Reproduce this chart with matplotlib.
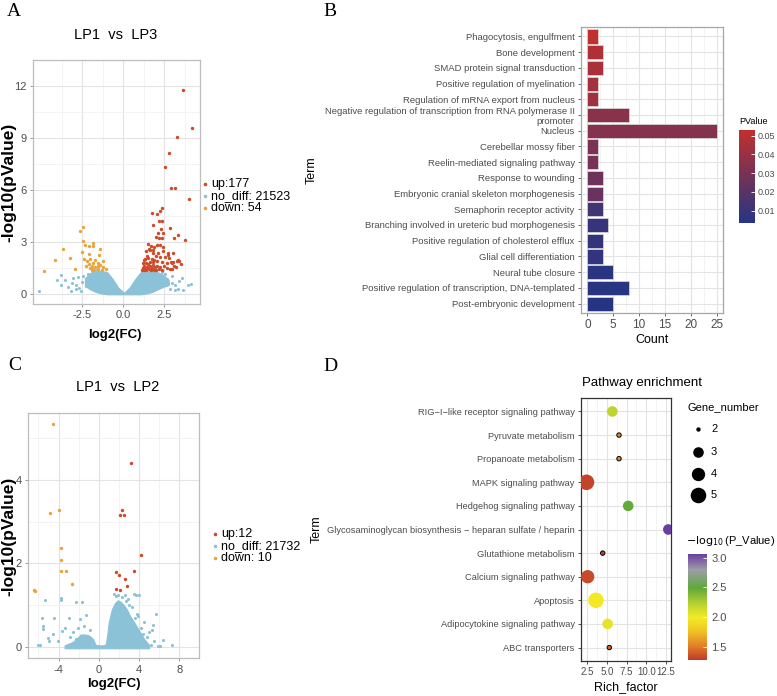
import matplotlib
matplotlib.use('Agg')
import matplotlib.pyplot as plt
import numpy as np
from matplotlib.colors import LinearSegmentedColormap, Normalize
from matplotlib.cm import ScalarMappable
from matplotlib.lines import Line2D

plt.rcParams['font.family'] = ['Liberation Sans', 'DejaVu Sans']

# ---------------- DATA ----------------
# Panel A : LP1 vs LP3 volcano
A_title = "LP1  vs  LP3"
A_legend = ["up:177", "no_diff: 21523", "down: 54"]
A_xticks = [-2.5, 0.0, 2.5]
A_xticklabels = ["-2.5", "0.0", "2.5"]
A_yticks = [0, 3, 6, 9, 12]
A_up_x = [3.62, 4.19, 3.30, 2.78, 2.54, 2.89, 3.15, 4.01,
          2.34, 2.24, 1.77, 2.08, 2.19, 2.34, 1.79, 2.86, 2.29,
          2.09, 2.43, 3.32, 1.99, 2.19, 2.34, 3.76, 3.11,
          1.52, 1.70, 1.87, 2.03, 2.24, 2.44, 1.60, 1.81,
          1.41, 1.66, 1.82, 2.11, 2.42, 2.73, 3.05,
          3.25, 3.34, 2.89, 2.97, 2.54, 2.77, 2.26, 1.98, 1.46,
          1.24, 1.35, 1.54, 1.73, 1.89, 2.07, 2.37, 2.64, 3.11, 3.23, 3.51,
          1.12, 1.18, 1.24, 1.29, 1.35, 1.41, 1.46, 1.52, 1.58, 1.64, 1.69, 1.75,
          1.81, 1.86, 1.92, 1.98, 2.03, 2.15, 2.26, 2.37, 2.49, 2.66, 2.83,
          1.20, 1.39, 1.61, 1.84, 3.00, 2.75, 3.05, 3.42]
A_up_y = [11.76, 9.59, 9.06, 8.11, 7.30, 6.10, 6.10, 5.50,
          4.97, 4.80, 4.69, 4.60, 4.18, 4.20, 3.95, 3.81, 3.74,
          3.50, 3.52, 3.42, 3.27, 3.22, 3.25, 3.12, 3.25,
          2.89, 2.75, 2.68, 2.80, 2.80, 2.70, 2.60, 2.55,
          2.45, 2.50, 2.38, 2.38, 2.45, 2.38, 2.38,
          1.89, 1.95, 1.85, 1.80, 2.10, 2.05, 2.15, 2.20, 2.20,
          1.95, 2.00, 2.05, 2.00, 1.95, 1.90, 1.85, 1.80, 1.60, 1.55, 1.70,
          1.35, 1.50, 1.40, 1.62, 1.45, 1.35, 1.55, 1.70, 1.42, 1.60, 1.35, 1.50,
          1.68, 1.40, 1.55, 1.35, 1.60, 1.45, 1.55, 1.40, 1.60, 1.50, 1.42,
          1.75, 1.80, 1.85, 1.82, 1.45, 2.24, 1.84, 1.90]
A_dn_x = [-4.81, -4.16, -3.70, -3.27, -2.95, -2.66, -2.48, -2.48, -2.33, -1.82,
          -2.07, -1.87, -1.44, -2.52, -2.10, -1.48, -2.38, -2.21, -2.00, -1.87,
          -1.71, -1.55, -2.11, -1.92, -1.72, -1.55, -1.42, -1.22, -2.29, -1.77,
          -1.55, -1.31, -1.07, -1.90, -2.05, -1.22]
A_dn_y = [1.32, 1.96, 2.61, 2.06, 1.43, 3.63, 3.83, 3.07, 2.79, 2.91,
          2.74, 2.74, 2.59, 2.43, 2.28, 2.22, 1.98, 1.89, 2.01, 1.80,
          1.94, 1.80, 1.71, 1.62, 1.55, 1.62, 1.68, 1.87, 1.62, 1.39,
          1.41, 1.36, 1.43, 1.43, 1.48, 1.52]
A_nd_x = [-5.14, -3.82, -4.01, -3.54, -3.78, -3.05, -3.10, -2.85, -2.67, -3.20,
          -2.74, -2.52, -2.91, -2.46, -2.29, -2.17, -2.57, -3.37, -1.89, -1.61,
          2.19, 2.65, 2.95, 3.42, 3.97, 3.66, 2.85, 3.15, 2.54, 3.00, 3.34, 2.72,
          3.57, 1.98, 2.37, 3.17, 4.14]
A_nd_y = [0.18, 1.06, 0.79, 0.79, 0.51, 0.92, 0.63, 0.48, 0.35, 0.18,
          0.95, 0.70, 0.25, 1.05, 0.45, 1.15, 0.15, 0.40, 1.30, 1.35,
          0.95, 0.83, 0.65, 0.74, 0.48, 0.21, 0.30, 0.48, 1.15, 1.00, 0.30, 0.60,
          0.90, 1.25, 1.25, 0.20, 0.55]
# dense no_diff core of panel A (upper / lower edge of the point cloud)
A_core_x = [-2.34, -2.0, -1.66, -1.32, -0.98, -0.64, -0.3, 0.04, 0.38, 0.73, 1.07,
            1.41, 1.75, 2.09, 2.43, 2.77]
A_core_top = [0.9, 1.2, 1.3, 1.32, 1.25, 0.85, 0.35, 0.06, 0.35, 0.85, 1.25, 1.3, 1.3,
              1.25, 1.1, 0.8]
A_core_bot = [0.45, 0.25, 0.1, 0.02, -0.03, -0.03, -0.03, -0.03, -0.03, -0.03, -0.03,
              0.02, 0.1, 0.25, 0.4, 0.5]

# Panel C : LP1 vs LP2 volcano
C_title = "LP1  vs  LP2"
C_legend = ["up:12", "no_diff: 21732", "down: 10"]
C_xticks = [-4, 0, 4, 8]
C_xticklabels = ["-4", "0", "4", "8"]
C_yticks = [0, 2, 4]
C_up_x = [3.19, 2.28, 2.14, 2.52, 4.16, 3.46, 1.70, 2.02, 2.61, 2.78, 1.75, 2.14]
C_up_y = [4.40, 3.29, 3.17, 3.17, 2.21, 1.83, 1.80, 1.72, 1.62, 1.45, 1.40, 1.36]
C_dn_x = [-4.53, -4.85, -3.97, -3.74, -3.71, -3.74, -3.27, -2.66, -6.43, -6.31]
C_dn_y = [5.34, 3.22, 3.29, 2.36, 2.09, 1.83, 1.83, 1.51, 1.37, 1.34]
C_nd_x = [-5.38, -5.61, -4.50, -5.84, -3.77, -3.74, -2.25, -1.69, -3.01, -1.87, -1.31,
          -5.55, -5.50, -5.03, -4.98, -4.60, -3.62, -3.36, -4.09, -2.90, -2.60, -2.30,
          -2.10, -1.50, -0.90, -6.00,
          3.46, 3.75, 4.00, 5.70, 5.41, 5.30, 6.38, 7.31, 5.90, 6.10, 4.50, 4.20,
          3.80, 4.80, 5.00, 3.30, 2.90, 2.60, 1.90, 4.60, 5.50, 3.60, 4.40, 5.20,
          1.50, 1.70, 2.35, 2.75, 3.05, 3.95]
C_nd_y = [1.12, 0.70, 0.70, 0.04, 1.17, 1.12, 1.07, 1.07, 0.70, 0.68, 0.77,
          0.50, 0.44, 0.22, 0.14, 0.30, 0.38, 0.46, 0.14, 0.25, 0.35, 0.20,
          0.45, 0.50, 0.40, 0.05,
          1.28, 1.25, 1.25, 0.78, 0.52, 0.40, 0.16, 0.06, 0.03, 0.03, 0.60, 0.45,
          0.80, 0.25, 0.35, 0.95, 1.15, 1.25, 1.25, 0.10, 0.15, 0.70, 0.30, 0.05,
          1.28, 1.22, 1.20, 1.10, 1.00, 0.75]
C_core_x = [-3.4, -3.0, -2.6, -2.2, -1.8, -1.4, -1.0, -0.6, -0.3, 0.0, 0.4, 0.7, 0.85, 1.0,
            1.3, 1.6, 1.9, 2.2, 2.5, 2.8, 3.1, 3.5, 4.0, 4.5, 5.0]
C_core_top = [0.04, 0.08, 0.12, 0.2, 0.3, 0.3, 0.28, 0.2, 0.05, 0.04, 0.04, 0.06, 0.3, 0.6,
              0.9, 1.05, 1.12, 1.08, 1.0, 0.9, 0.75, 0.6, 0.4, 0.2, 0.05]
C_core_bot = [-0.03] * 25

# Panel B : GO term bar chart
B_terms = ["Phagocytosis, engulfment", "Bone development", "SMAD protein signal transduction",
           "Positive regulation of myelination", "Regulation of mRNA export from nucleus",
           "Negative regulation of transcription from RNA polymerase II\npromoter",
           "Nucleus", "Cerebellar mossy fiber", "Reelin-mediated signaling pathway",
           "Response to wounding", "Embryonic cranial skeleton morphogenesis",
           "Semaphorin receptor activity", "Branching involved in ureteric bud morphogenesis",
           "Positive regulation of cholesterol efflux", "Glial cell differentiation",
           "Neural tube closure", "Positive regulation of transcription, DNA-templated",
           "Post-embryonic development"]
B_count = [2, 3, 3, 2, 2, 8, 25, 2, 2, 3, 3, 3, 4, 3, 3, 5, 8, 5]
B_pvalue = [0.053, 0.048, 0.046, 0.044, 0.043, 0.036, 0.034, 0.031, 0.030,
            0.027, 0.025, 0.013, 0.009, 0.008, 0.0075, 0.005, 0.004, 0.0034]
B_xticks = [0, 5, 10, 15, 20, 25]
B_cbticks = [0.01, 0.02, 0.03, 0.04, 0.05]

# Panel D : KEGG pathway enrichment
D_terms = ["RIG\u2212I\u2212like receptor signaling pathway", "Pyruvate metabolism",
           "Propanoate metabolism", "MAPK signaling pathway", "Hedgehog signaling pathway",
           "Glycosaminoglycan biosynthesis \u2212 heparan sulfate / heparin",
           "Glutathione metabolism", "Calcium signaling pathway", "Apoptosis",
           "Adipocytokine signaling pathway", "ABC transporters"]
D_rich = [5.68, 6.53, 6.53, 2.40, 7.70, 12.80, 4.46, 2.55, 3.60, 5.09, 5.30]
D_genes = [3, 2, 2, 5, 3, 3, 2, 4, 5, 3, 2]
D_logp = [2.20, 1.55, 1.55, 1.32, 2.48, 3.06, 1.30, 1.34, 1.98, 2.05, 1.42]
D_xticks = [2.5, 5.0, 7.5, 10.0, 12.5]
D_size_levels = [2, 3, 4, 5]
D_cbticks = [1.5, 2.0, 2.5, 3.0]

# ---------------- STYLE ----------------
W, H = 777, 696
RED, ORANGE, BLUE = '#CF4A26', '#E9A53B', '#8BC2D7'
TXT = '#4D4D4D'
fig = plt.figure(figsize=(W / 100, H / 100), dpi=100)


def box(x0, y0, x1, y1):
    return [x0 / W, 1 - y1 / H, (x1 - x0) / W, (y1 - y0) / H]


def ftext(x, y, s, **kw):
    return fig.text(x / W, 1 - y / H, s, **kw)


def fdot(x, y, color, ms, mec='none', mew=0):
    fig.add_artist(Line2D([x / W], [1 - y / H], marker='o', color=color, ms=ms,
                          mec=mec, mew=mew, ls='none', transform=fig.transFigure))


def style_grid(ax, border):
    ax.set_axisbelow(True)
    ax.grid(which='major', color='#E3E3E3', lw=0.8)
    ax.grid(which='minor', color='#F1F1F1', lw=0.6)
    ax.tick_params(which='minor', length=0)
    for sp in ax.spines.values():
        sp.set_color(border)
        sp.set_linewidth(0.9)


def volcano(rect, core_x, core_top, core_bot, nd_x, nd_y, up_x, up_y, dn_x, dn_y,
            xlim, ylim, xticks, xticklabels, yticks):
    ax = fig.add_axes(rect)
    ax.fill_between(core_x, core_bot, core_top, color=BLUE, lw=0.8, ec=BLUE, zorder=2)
    ax.scatter(nd_x, nd_y, s=5, color=BLUE, lw=0, zorder=2)
    ax.scatter(dn_x, dn_y, s=6, color=ORANGE, lw=0, zorder=3)
    ax.scatter(up_x, up_y, s=6, color=RED, lw=0, zorder=3)
    ax.set_xlim(*xlim)
    ax.set_ylim(*ylim)
    ax.set_xticks(xticks)
    ax.set_xticklabels(xticklabels)
    ax.set_yticks(yticks)
    xt = np.array(xticks, float)
    ax.set_xticks(np.r_[xt[0] - (xt[1] - xt[0]) / 2, (xt[:-1] + xt[1:]) / 2,
                        xt[-1] + (xt[1] - xt[0]) / 2], minor=True)
    yt = np.array(yticks, float)
    ax.set_yticks(np.r_[(yt[:-1] + yt[1:]) / 2, yt[-1] + (yt[1] - yt[0]) / 2], minor=True)
    style_grid(ax, '#BDBDBD')
    ax.tick_params(which='major', labelsize=8, colors=TXT, length=2.5, width=0.6, pad=2)
    ax.tick_params(which='major', color='#888888')
    return ax


# ---------------- PANEL A ----------------
axA = volcano(box(32.7, 60, 200, 304), A_core_x, A_core_top, A_core_bot, A_nd_x, A_nd_y,
              A_up_x, A_up_y, A_dn_x, A_dn_y, (-5.52, 4.68), (-0.59, 12.38),
              A_xticks, A_xticklabels, A_yticks)
ftext(14, 12, 'A', fontsize=14, family='Liberation Serif', ha='center', va='center')
ftext(116, 35, A_title, fontsize=10.5, ha='center', va='center')
ftext(9, 182, '-log10(pValue)', fontsize=12.5, weight='bold', rotation=90, ha='center', va='center')
ftext(115, 335, 'log2(FC)', fontsize=9.5, weight='bold', ha='center', va='center')
for i, (lab, col) in enumerate(zip(A_legend, [RED, BLUE, ORANGE])):
    fdot(205, 184 + 12 * i, col, 2.6)
    ftext(211, 184 + 12 * i, lab, fontsize=9, ha='left', va='center')

# ---------------- PANEL C ----------------
axC = volcano(box(27.7, 412.7, 199.3, 658.3), C_core_x, C_core_top, C_core_bot, C_nd_x, C_nd_y,
              C_up_x, C_up_y, C_dn_x, C_dn_y, (-7.07, 7.98), (-0.27, 5.61),
              C_xticks, C_xticklabels, C_yticks)
ftext(15, 366, 'C', fontsize=14, family='Liberation Serif', ha='center', va='center')
ftext(118, 387, C_title, fontsize=10.5, ha='center', va='center')
ftext(9, 536, '-log10(pValue)', fontsize=12.5, weight='bold', rotation=90, ha='center', va='center')
ftext(114, 684, 'log2(FC)', fontsize=9.5, weight='bold', ha='center', va='center')
for i, (lab, col) in enumerate(zip(C_legend, [RED, BLUE, ORANGE])):
    fdot(215, 534 + 12 * i, col, 2.6)
    ftext(221, 534 + 12 * i, lab, fontsize=9, ha='left', va='center')

# ---------------- PANEL B ----------------
cmapB = LinearSegmentedColormap.from_list('pv', ['#253584', '#C0302D'])
normB = Normalize(vmin=min(B_pvalue), vmax=max(B_pvalue))
axB = fig.add_axes(box(581, 27, 723, 313))
nB = len(B_terms)
yB = np.arange(nB)[::-1]
axB.barh(yB, B_count, height=0.9, color=cmapB(normB(np.array(B_pvalue))),
         edgecolor='#DDDDDD', lw=0.5, zorder=3)
axB.set_yticks(yB)
axB.set_yticklabels(B_terms)
axB.set_ylim(-0.6, nB - 1 + 0.6)
axB.set_xlim(-1.25, 26.25)
axB.set_xticks(B_xticks)
axB.set_xticks([2.5, 7.5, 12.5, 17.5, 22.5], minor=True)
style_grid(axB, '#A6A6A6')
axB.tick_params(axis='y', which='major', labelsize=6.8, colors=TXT, length=2.5, width=0.6, pad=2)
axB.tick_params(axis='x', which='major', labelsize=8.5, colors=TXT, length=2.5, width=0.6, pad=2)
axB.tick_params(which='major', color='#555555')
ftext(330, 12, 'B', fontsize=14, family='Liberation Serif', ha='center', va='center')
ftext(312, 170, 'Term', fontsize=9, rotation=90, ha='center', va='center')
ftext(652, 340, 'Count', fontsize=9, ha='center', va='center')
caxB = fig.add_axes(box(739, 130, 755, 223))
cbB = fig.colorbar(ScalarMappable(norm=normB, cmap=cmapB), cax=caxB)
cbB.set_ticks(B_cbticks)
cbB.set_ticklabels(['%.2f' % t for t in B_cbticks])
cbB.outline.set_visible(False)
caxB.tick_params(labelsize=6.5, colors=TXT, length=3, width=0.6, direction='in', pad=2)
caxB.tick_params(color='white')
ftext(739, 121, 'PValue', fontsize=6.5, ha='left', va='center')

# ---------------- PANEL D ----------------
cmapD = LinearSegmentedColormap.from_list('lp', [
    (0.0, '#BF3A2B'), (0.12, '#DF7A28'), (0.27, '#F0C324'), (0.40, '#F3EA26'),
    (0.52, '#BCD431'), (0.68, '#5FA839'), (0.85, '#9C9EA8'), (1.0, '#6A3E9E')])
normD = Normalize(vmin=1.28, vmax=3.06)
size_of = {2: 10, 3: 58, 4: 92, 5: 125}
axD = fig.add_axes(box(581, 398, 671, 661))
nD = len(D_terms)
yD = np.arange(nD)[::-1]
edge = ['black' if g == 2 else 'none' for g in D_genes]
axD.scatter(D_rich, yD, s=[size_of[g] for g in D_genes], c=D_logp, cmap=cmapD, norm=normD,
            edgecolors=edge, linewidths=0.7, zorder=3)
axD.set_yticks(yD)
axD.set_yticklabels(D_terms)
axD.set_ylim(-0.57, nD - 1 + 0.57)
axD.set_xlim(1.70, 13.14)
axD.set_xticks(D_xticks)
axD.set_xticks([3.75, 6.25, 8.75, 11.25], minor=True)
style_grid(axD, '#333333')
axD.tick_params(axis='y', which='major', labelsize=6.7, colors=TXT, length=2.5, width=0.6, pad=2)
axD.tick_params(axis='x', which='major', labelsize=7, colors=TXT, length=2.5, width=0.6, pad=2)
axD.tick_params(which='major', color='#333333')
ftext(330, 367, 'D', fontsize=14, family='Liberation Serif', ha='center', va='center')
ftext(582, 383, 'Pathway enrichment', fontsize=9.5, ha='left', va='center')
ftext(317, 529, 'Term', fontsize=9, rotation=90, ha='center', va='center')
ftext(626, 687, 'Rich_factor', fontsize=9, ha='center', va='center')
ftext(688, 407, 'Gene_number', fontsize=8, ha='left', va='center')
for i, g in enumerate(D_size_levels):
    yy = [429, 452, 474, 495][i]
    fdot(698, yy, 'black', np.sqrt(size_of[g]))
    ftext(711, yy, str(g), fontsize=8, ha='left', va='center')
caxD = fig.add_axes(box(688, 554, 707, 660))
cbD = fig.colorbar(ScalarMappable(norm=normD, cmap=cmapD), cax=caxD)
cbD.set_ticks(D_cbticks)
cbD.set_ticklabels(['%.1f' % t for t in D_cbticks])
cbD.outline.set_visible(False)
caxD.tick_params(labelsize=8, colors=TXT, length=3, width=0.6, direction='in', pad=3)
caxD.tick_params(color='white')
ftext(686, 541, r'$-\log_{10}$(P_Value)', fontsize=8, ha='left', va='center')

fig.savefig('out.png', dpi=100)
